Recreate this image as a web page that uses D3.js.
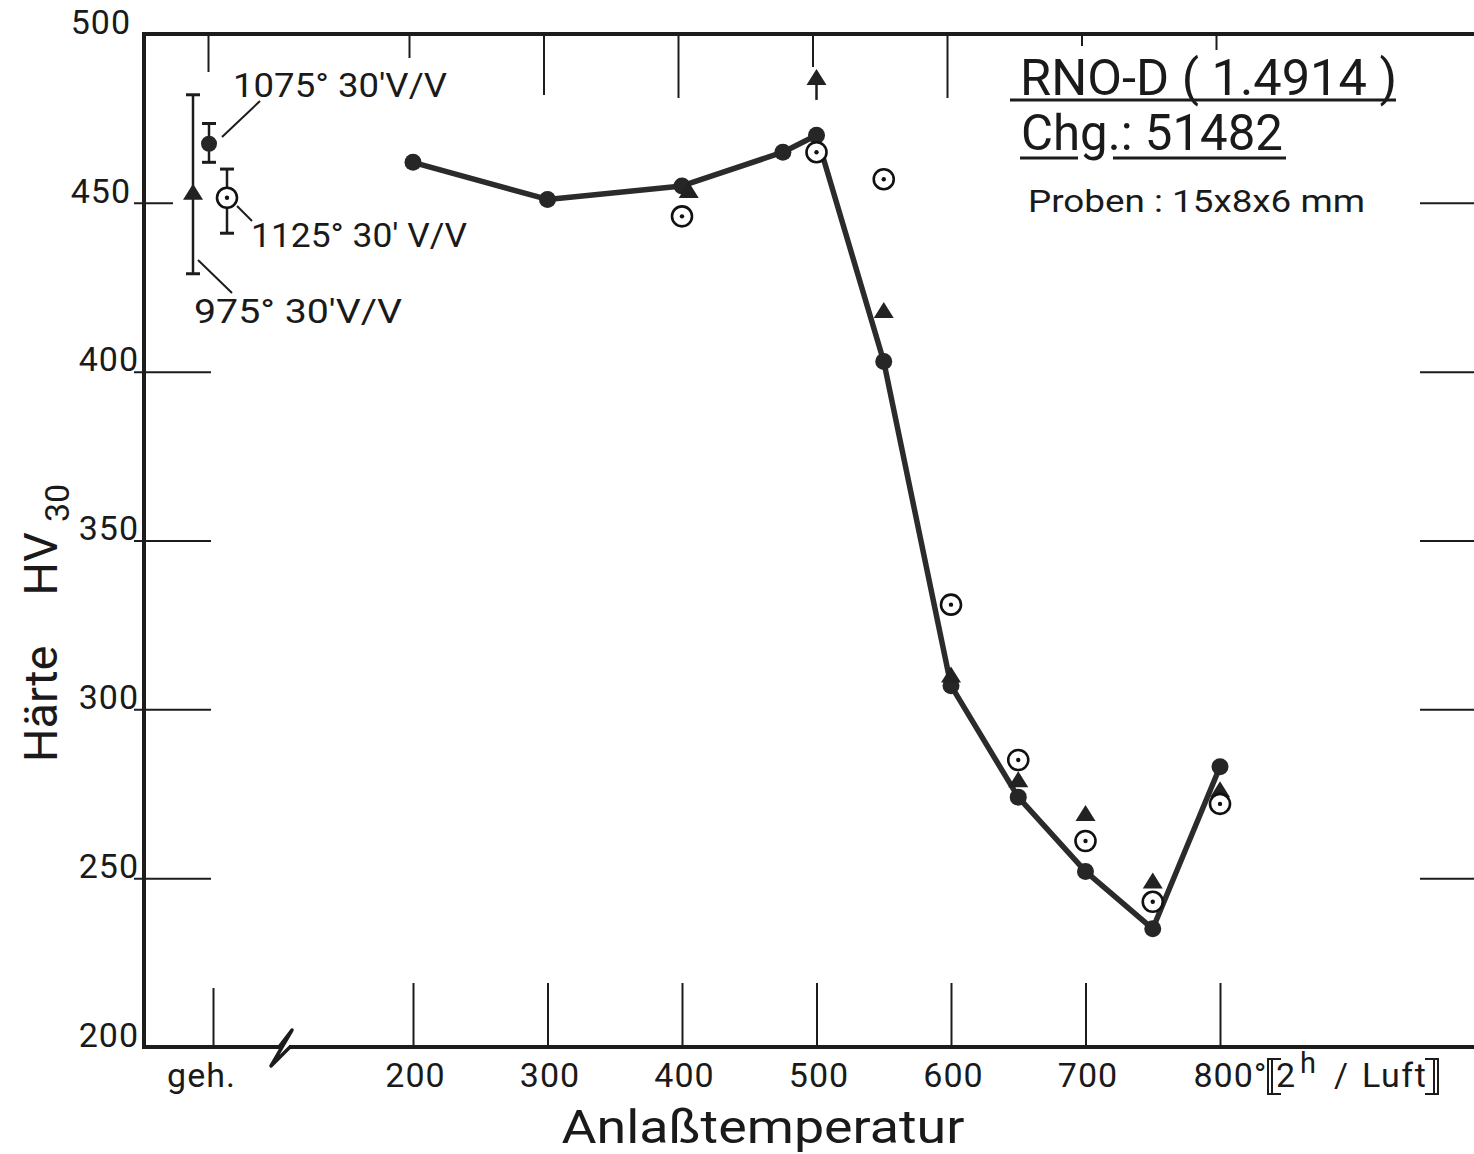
<!DOCTYPE html>
<html>
<head>
<meta charset="utf-8">
<script src="https://cdn.jsdelivr.net/npm/d3@7"></script>
<style>
  html, body { margin: 0; padding: 0; background: #fff; }
  svg { display: block; }
  text { font-family: Roboto, "Liberation Sans", sans-serif; fill: #1a1a1a; }
</style>
</head>
<body>
<svg id="chart" width="1474" height="1154"></svg>
<script>
// ---------------- DATA ----------------
const xTickValues = [200, 300, 400, 500, 600, 700, 800];
const yTickValues = [200, 250, 300, 350, 400, 450, 500];
const gehLabel = "geh.";

// 1075° 30'V/V (solid circles, connected curve)
const temps1075 = [200, 300, 400, 475, 500, 550, 600, 650, 700, 750, 800];
const hv1075    = [462, 451, 455, 465, 470, 403, 307, 274, 252, 235, 283];

// 1125° 30'V/V (open circles with dot)
const temps1125 = [400, 500, 550, 600, 650, 700, 750, 800];
const hv1125    = [446, 465, 457, 331, 285, 261, 243, 272];

// 975° 30'V/V (triangles)
const temps975 = [405, 500, 550, 600, 650, 700, 750, 800];
const hv975    = [453.5, 487, 418, 310, 279, 269, 249, 276];

// as-hardened ("geh.") values: mean, min, max
const geh975  = [453, 429, 482];
const geh1075 = [467.5, 462, 473.5];
const geh1125 = [451.5, 441, 460];

// ---------------- LAYOUT ----------------
const svg = d3.select("#chart");
const pL = 144, pR = 1474, pT = 34, pB = 1047;
const x = d3.scaleLinear().domain([200, 800]).range([413, 1220]);
const y = d3.scaleLinear().domain([200, 500]).range([pB, pT]);
const gehX = 213;
const gehScale = d3.scalePoint().domain([gehLabel]).range([gehX, gehX]);
const ink = "#1c1c1c";

// frame lines (broken x-axis)
const frame = svg.append("g").attr("fill", "none").attr("stroke", ink).attr("stroke-width", 4);
frame.append("line").attr("x1", pL).attr("x2", pL).attr("y1", pT - 2).attr("y2", pB + 2);
frame.append("line").attr("x1", pL - 2).attr("x2", pR).attr("y1", pT).attr("y2", pT);
frame.append("line").attr("x1", pL - 2).attr("x2", 280).attr("y1", pB).attr("y2", pB);
frame.append("line").attr("x1", 289).attr("x2", pR).attr("y1", pB).attr("y2", pB);
frame.append("path").attr("stroke-width", 3.5).attr("stroke-linejoin", "round")
  .attr("d", "M279,1047 L292,1030 L271,1066 L290,1047");

// bottom axis (ticks upward)
const axB = svg.append("g").attr("transform", `translate(0,${pB})`)
  .call(d3.axisBottom(x).tickValues(xTickValues).tickSizeInner(-64).tickSizeOuter(0)
    .tickPadding(16).tickFormat(d => d === 800 ? "800°" : String(d)));
const axG = svg.append("g").attr("transform", `translate(0,${pB})`)
  .call(d3.axisBottom(gehScale).tickSizeInner(-59).tickSizeOuter(0).tickPadding(16));
[axB, axG].forEach(a => {
  a.select(".domain").remove();
  a.selectAll(".tick line").attr("stroke", ink).attr("stroke-width", 2);
  a.selectAll(".tick text").attr("font-size", 34).attr("fill", ink)
    .attr("font-family", "Roboto, sans-serif").attr("letter-spacing", 1);
});
axB.selectAll(".tick text").attr("dx", d => d === 800 ? 10 : 2);
axG.selectAll(".tick text").attr("dx", -12);

// "[2h / Luft]"
const unit = svg.append("text").attr("y", 1087).attr("font-size", 34).attr("fill", ink);
unit.append("tspan").attr("x", 1276).text("2");
unit.append("tspan").attr("x", 1300).attr("dy", -14).attr("font-size", 29).text("h");
unit.append("tspan").attr("x", 1334).attr("dy", 14).text("/");
unit.append("tspan").attr("x", 1362).attr("letter-spacing", 1.5).text("Luft");
const br = svg.append("g").attr("fill", "none").attr("stroke", ink).attr("stroke-width", 2);
br.append("path").attr("d", "M1281,1059 L1268,1059 L1268,1094 L1281,1094 M1272,1059 L1272,1094");
br.append("path").attr("d", "M1425,1059 L1438,1059 L1438,1094 L1425,1094 M1434,1059 L1434,1094");

// top axis (ticks downward, hand-drawn lengths)
const topLens = [24, 61, 64, 33, 64, 12, 16];
const axT = svg.append("g").attr("transform", `translate(-4,${pT})`)
  .call(d3.axisTop(x).tickValues(xTickValues).tickSizeInner(-40).tickSizeOuter(0).tickFormat(""));
axT.select(".domain").remove();
axT.selectAll(".tick line").attr("stroke", ink).attr("stroke-width", 2)
  .attr("y2", (d, i) => topLens[i]);
const axTG = svg.append("g").attr("transform", `translate(-5,${pT})`)
  .call(d3.axisTop(gehScale).tickSizeInner(-38).tickSizeOuter(0).tickFormat(""));
axTG.select(".domain").remove();
axTG.selectAll(".tick line").attr("stroke", ink).attr("stroke-width", 2);

// left axis
const axL = svg.append("g").attr("transform", `translate(${pL},0)`)
  .call(d3.axisLeft(y).tickValues(yTickValues).tickSizeInner(-67).tickSizeOuter(0).tickPadding(8));
axL.select(".domain").remove();
axL.selectAll(".tick line").attr("stroke", ink).attr("stroke-width", 2)
  .attr("x1", -10)
  .attr("x2", d => d === 450 ? 29 : 67)
  .attr("opacity", d => (d === 200 || d === 500) ? 0 : 1);
axL.selectAll(".tick text").attr("font-size", 34).attr("fill", ink)
  .attr("font-family", "Roboto, sans-serif").attr("letter-spacing", 1)
  .attr("dy", "-0.02em").attr("dx", d => d === 450 || d === 500 ? -5 : 3);

// right axis ticks
const axR = svg.append("g").attr("transform", `translate(${pR},0)`)
  .call(d3.axisRight(y).tickValues([250, 300, 350, 400, 450]).tickSizeInner(-54).tickSizeOuter(0).tickFormat(""));
axR.select(".domain").remove();
axR.selectAll(".tick line").attr("stroke", ink).attr("stroke-width", 2);

// axis titles
svg.append("text").attr("x", 763).attr("y", 1143).attr("text-anchor", "middle")
  .attr("font-size", 46).attr("textLength", 403).attr("lengthAdjust", "spacingAndGlyphs")
  .attr("fill", ink).text("Anlaßtemperatur");
const yt = svg.append("text").attr("transform", "translate(57,762) rotate(-90)")
  .attr("text-anchor", "start").attr("font-size", 47).attr("fill", ink);
yt.append("tspan").text("Härte");
yt.append("tspan").attr("dx", 50).text("HV");
yt.append("tspan").attr("dx", 10).attr("dy", 12).attr("font-size", 34).text("30");

// info block
svg.append("text").attr("x", 1020).attr("y", 95).attr("font-size", 50)
  .attr("textLength", 377).attr("lengthAdjust", "spacingAndGlyphs").attr("fill", ink)
  .text("RNO-D ( 1.4914 )");
svg.append("text").attr("x", 1021).attr("y", 150).attr("font-size", 50)
  .attr("textLength", 262).attr("lengthAdjust", "spacingAndGlyphs").attr("fill", ink)
  .text("Chg.: 51482");
svg.append("text").attr("x", 1028).attr("y", 212).attr("font-size", 32)
  .attr("textLength", 337).attr("lengthAdjust", "spacingAndGlyphs").attr("fill", ink)
  .text("Proben : 15x8x6 mm");
const ul = svg.append("g").attr("stroke", ink).attr("stroke-width", 3);
ul.append("line").attr("x1", 1010).attr("x2", 1396).attr("y1", 100).attr("y2", 100);
ul.append("line").attr("x1", 1020).attr("x2", 1078).attr("y1", 158).attr("y2", 158);
ul.append("line").attr("x1", 1113).attr("x2", 1286).attr("y1", 158).attr("y2", 158);

// ---------------- MARKS ----------------
const tri = "M0,-9 L10,7 L-10,7 Z";
const curve = d3.line().x((d, i) => x(temps1075[i])).y(d => y(d));
svg.append("path").datum(hv1075).attr("d", curve)
  .attr("fill", "none").attr("stroke", "#2b2b2b").attr("stroke-width", 5.5).attr("stroke-linejoin", "round");

svg.append("g").selectAll("circle").data(hv1075).join("circle")
  .attr("cx", (d, i) => x(temps1075[i])).attr("cy", d => y(d)).attr("r", 8.5).attr("fill", "#262626");

// triangles
svg.append("g").selectAll("path").data(hv975).join("path")
  .attr("d", tri).attr("fill", "#222")
  .attr("transform", (d, i) => `translate(${x(temps975[i])},${y(d)})`);
// arrow stem for off-scale point at 500
svg.append("line").attr("x1", x(500)).attr("x2", x(500))
  .attr("y1", y(hv975[1]) + 6).attr("y2", y(hv975[1]) + 22)
  .attr("stroke", ink).attr("stroke-width", 2.5);

// open circles
const oc = svg.append("g").selectAll("g").data(hv1125).join("g")
  .attr("transform", (d, i) => `translate(${x(temps1125[i])},${y(d)})`);
oc.append("circle").attr("r", 10).attr("fill", "#fff").attr("stroke", "#111").attr("stroke-width", 2.6);
oc.append("circle").attr("r", 2.2).attr("fill", "#111");

// as-hardened values with scatter bars
const gehSets = [
  { v: geh975, dx: -20, kind: "tri" },
  { v: geh1075, dx: -4, kind: "solid" },
  { v: geh1125, dx: 14, kind: "open" }
];
const eb = svg.append("g").attr("stroke", ink).attr("stroke-width", 2.5);
gehSets.forEach(s => {
  const cx = gehScale(gehLabel) + s.dx;
  eb.append("line").attr("x1", cx).attr("x2", cx).attr("y1", y(s.v[1])).attr("y2", y(s.v[2]));
  [s.v[1], s.v[2]].forEach(v => eb.append("line").attr("x1", cx - 7).attr("x2", cx + 7)
    .attr("y1", y(v)).attr("y2", y(v)).attr("stroke-width", 3));
  const cy = y(s.v[0]);
  if (s.kind === "tri") svg.append("path").attr("d", tri).attr("fill", "#222").attr("transform", `translate(${cx},${cy})`);
  if (s.kind === "solid") svg.append("circle").attr("cx", cx).attr("cy", cy).attr("r", 8).attr("fill", "#262626");
  if (s.kind === "open") {
    svg.append("circle").attr("cx", cx).attr("cy", cy).attr("r", 10).attr("fill", "#fff").attr("stroke", "#111").attr("stroke-width", 2.6);
    svg.append("circle").attr("cx", cx).attr("cy", cy).attr("r", 2.2).attr("fill", "#111");
  }
});

// annotations
const ann = svg.append("g").attr("stroke", ink).attr("stroke-width", 2);
ann.append("line").attr("x1", 222).attr("y1", 137).attr("x2", 260).attr("y2", 101);
ann.append("line").attr("x1", 237).attr("y1", 206).attr("x2", 252).attr("y2", 221);
ann.append("line").attr("x1", 198).attr("y1", 260).attr("x2", 232).attr("y2", 293);
svg.append("text").attr("x", 233).attr("y", 97).attr("font-size", 34)
  .attr("textLength", 214).attr("lengthAdjust", "spacingAndGlyphs").attr("fill", ink).text("1075° 30'V/V");
svg.append("text").attr("x", 251).attr("y", 247).attr("font-size", 34)
  .attr("textLength", 216).attr("lengthAdjust", "spacingAndGlyphs").attr("fill", ink).text("1125° 30' V/V");
svg.append("text").attr("x", 194).attr("y", 323).attr("font-size", 34)
  .attr("textLength", 208).attr("lengthAdjust", "spacingAndGlyphs").attr("fill", ink).text("975° 30'V/V");
</script>
</body>
</html>
